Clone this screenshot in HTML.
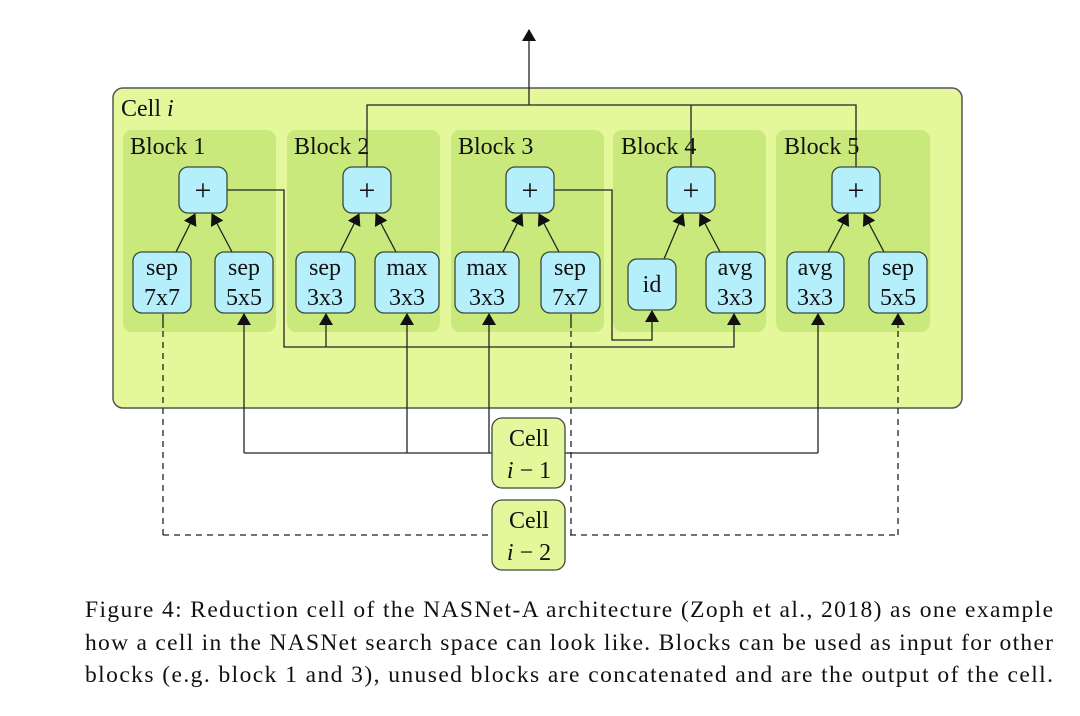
<!DOCTYPE html>
<html><head><meta charset="utf-8"><style>
html,body{margin:0;padding:0;background:#fff;}
svg{display:block;}
text{font-family:"Liberation Serif",serif;fill:#111;}
</style></head><body>
<svg width="1080" height="716" viewBox="0 0 1080 716" xmlns="http://www.w3.org/2000/svg">
<defs>
<marker id="ah" markerWidth="12" markerHeight="14" refX="11" refY="7" orient="auto" markerUnits="userSpaceOnUse">
<path d="M0,0 L12,7 L0,14 z" fill="#111"/></marker>
</defs>
<rect x="113" y="88" width="849" height="320" rx="10" fill="#e4f89b" stroke="#555" stroke-width="1.5"/>
<text x="121" y="116" font-size="24">Cell <tspan font-style="italic">i</tspan></text>
<g fill="#c9e97c">
<rect x="123" y="130" width="153" height="202" rx="9"/>
<rect x="287" y="130" width="153" height="202" rx="9"/>
<rect x="451" y="130" width="153" height="202" rx="9"/>
<rect x="613" y="130" width="153" height="202" rx="9"/>
<rect x="776" y="130" width="154" height="202" rx="9"/>
</g>
<g font-size="24">
<text x="130" y="154">Block 1</text>
<text x="294" y="154">Block 2</text>
<text x="458" y="154">Block 3</text>
<text x="621" y="154">Block 4</text>
<text x="784" y="154">Block 5</text>
</g>
<g stroke="#222" stroke-width="1.3" fill="none">
<path d="M529 105 L529 30" marker-end="url(#ah)"/>
<path d="M367 167 L367 105 L856 105 L856 167"/>
<path d="M691 167 L691 105"/>
<path d="M227 190 L284 190 L284 347 L734 347 L734 314" marker-end="url(#ah)"/>
<path d="M326 347 L326 314" marker-end="url(#ah)"/>
<path d="M554 190 L612 190 L612 340 L652 340 L652 311" marker-end="url(#ah)"/>
<path d="M244 453 L244 314" marker-end="url(#ah)"/>
<path d="M244 453 L818 453"/>
<path d="M407 453 L407 314" marker-end="url(#ah)"/>
<path d="M489 453 L489 314" marker-end="url(#ah)"/>
<path d="M818 453 L818 314" marker-end="url(#ah)"/>
<g stroke-dasharray="6,5">
<path d="M163 535 L163 326 M571 535 L571 326 M898 535 L898 326 M163 535 L898 535"/>
</g>
<path d="M163 328 L163 314 M571 328 L571 314 M898 328 L898 314" marker-end="url(#ah)"/>
<path d="M176 252 L195 214" marker-end="url(#ah)"/>
<path d="M232 252 L212 214" marker-end="url(#ah)"/>
<path d="M340 252 L359 214" marker-end="url(#ah)"/>
<path d="M396 252 L376 214" marker-end="url(#ah)"/>
<path d="M503 252 L522 214" marker-end="url(#ah)"/>
<path d="M559 252 L539 214" marker-end="url(#ah)"/>
<path d="M664 259 L683 214" marker-end="url(#ah)"/>
<path d="M720 252 L700 214" marker-end="url(#ah)"/>
<path d="M828 252 L848 214" marker-end="url(#ah)"/>
<path d="M884 252 L864 214" marker-end="url(#ah)"/>
</g>
<g fill="#b4effb" stroke="#3a4a3a" stroke-width="1.3">
<rect x="179" y="167" width="48" height="46" rx="9"/>
<rect x="343" y="167" width="48" height="46" rx="9"/>
<rect x="506" y="167" width="48" height="46" rx="9"/>
<rect x="667" y="167" width="48" height="46" rx="9"/>
<rect x="832" y="167" width="48" height="46" rx="9"/>
<rect x="133" y="252" width="58" height="61" rx="9"/>
<rect x="215" y="252" width="58" height="61" rx="9"/>
<rect x="296" y="252" width="59" height="61" rx="9"/>
<rect x="375" y="252" width="64" height="61" rx="9"/>
<rect x="455" y="252" width="64" height="61" rx="9"/>
<rect x="541" y="252" width="59" height="61" rx="9"/>
<rect x="628" y="259" width="48" height="51" rx="9"/>
<rect x="706" y="252" width="59" height="61" rx="9"/>
<rect x="787" y="252" width="57" height="61" rx="9"/>
<rect x="869" y="252" width="58" height="61" rx="9"/>
</g>
<g font-size="30" text-anchor="middle">
<text x="203" y="200">+</text><text x="367" y="200">+</text><text x="530" y="200">+</text><text x="691" y="200">+</text><text x="856" y="200">+</text>
</g>
<g font-size="24" text-anchor="middle">
<text x="162" y="275">sep</text><text x="162" y="305">7x7</text>
<text x="244" y="275">sep</text><text x="244" y="305">5x5</text>
<text x="325" y="275">sep</text><text x="325" y="305">3x3</text>
<text x="407" y="275">max</text><text x="407" y="305">3x3</text>
<text x="487" y="275">max</text><text x="487" y="305">3x3</text>
<text x="570" y="275">sep</text><text x="570" y="305">7x7</text>
<text x="652" y="292">id</text>
<text x="735" y="275">avg</text><text x="735" y="305">3x3</text>
<text x="815" y="275">avg</text><text x="815" y="305">3x3</text>
<text x="898" y="275">sep</text><text x="898" y="305">5x5</text>
</g>
<g fill="#e4f89b" stroke="#3a4a3a" stroke-width="1.3">
<rect x="492" y="418" width="73" height="70" rx="10"/>
<rect x="492" y="500" width="73" height="70" rx="10"/>
</g>
<g font-size="24" text-anchor="middle">
<text x="529" y="446">Cell</text>
<text x="529" y="478"><tspan font-style="italic">i</tspan> − 1</text>
<text x="529" y="528">Cell</text>
<text x="529" y="560"><tspan font-style="italic">i</tspan> − 2</text>
</g>
<g font-size="23.5">
<text x="85" y="617" textLength="968" lengthAdjust="spacing">Figure 4: Reduction cell of the NASNet-A architecture (Zoph et al., 2018) as one example</text>
<text x="85" y="650" textLength="968" lengthAdjust="spacing">how a cell in the NASNet search space can look like. Blocks can be used as input for other</text>
<text x="85" y="682" textLength="968" lengthAdjust="spacing">blocks (e.g. block 1 and 3), unused blocks are concatenated and are the output of the cell.</text>
</g>
</svg>
</body></html>
